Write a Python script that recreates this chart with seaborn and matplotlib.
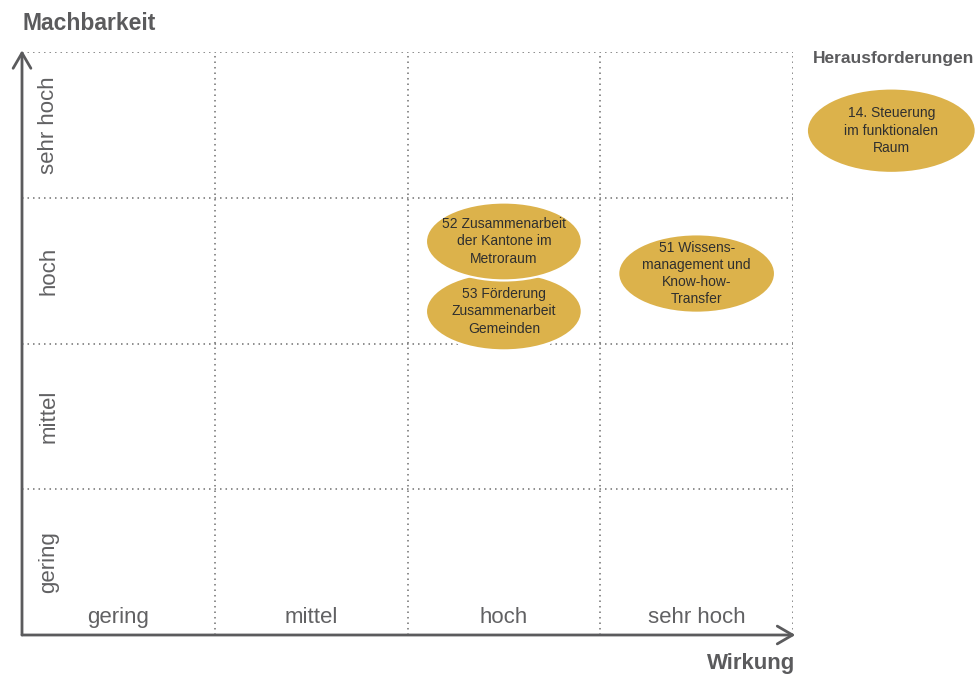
import matplotlib
matplotlib.use("Agg")
import matplotlib.pyplot as plt
import seaborn as sns
import pandas as pd
from matplotlib.path import Path
from matplotlib.transforms import Affine2D
from matplotlib.markers import MarkerStyle

# rating levels used on both axes
levels = ["gering", "mittel", "hoch", "sehr hoch"]

# measures (53 first so 52 overlaps it)
labels = [
    "53 Förderung\nZusammenarbeit\nGemeinden",
    "52 Zusammenarbeit\nder Kantone im\nMetroraum",
    "51 Wissens-\nmanagement und\nKnow-how-\nTransfer",
    "14. Steuerung\nim funktionalen\nRaum",
]
wirkung = [2.5, 2.5, 3.5, 4.51]
machbarkeit = [2.22, 2.70, 2.48, 3.46]

df = pd.DataFrame({"label": labels, "wirkung": wirkung, "machbarkeit": machbarkeit})

sns.set_theme(style="white")
plt.rcParams["font.family"] = ["Liberation Sans", "DejaVu Sans"]

gold = "#dcb24b"
grey = "#5b5b5d"

fig = plt.figure(figsize=(9.8, 6.78), dpi=100)
ax = fig.add_axes([22 / 980, 43 / 678, 771 / 980, 583 / 678])
ax.set_xlim(0, len(levels))
ax.set_ylim(0, len(levels))
ax.set_xticks([])
ax.set_yticks([])
for s in ax.spines.values():
    s.set_visible(False)

# dotted grid
for v in range(1, len(levels) + 1):
    ax.axvline(v, color="#707070", lw=1.1, ls=(0, (1, 2.6)), zorder=1)
    ax.axhline(v, color="#707070", lw=1.1, ls=(0, (1, 2.6)), zorder=1)

# axis arrows
arrow = dict(arrowstyle="->,head_length=0.55,head_width=0.32", color=grey,
             lw=2.0, mutation_scale=20, shrinkA=0, shrinkB=0)
ax.annotate("", xy=(0, 1.003), xytext=(0, 0), xycoords="axes fraction",
            arrowprops=arrow, annotation_clip=False)
ax.annotate("", xy=(1.003, 0), xytext=(0, 0), xycoords="axes fraction",
            arrowprops=arrow, annotation_clip=False)

# level labels inside the axes
for i, lv in enumerate(levels):
    ax.text(i + 0.5, 0.117, lv, ha="center", va="center", fontsize=16, color="#616163")
    ax.text(0.138, i + 0.5, lv, ha="center", va="center", rotation=90,
            fontsize=16, color="#616163")

# ellipse bubbles
ellipse = MarkerStyle(Path.unit_circle().transformed(Affine2D().scale(1, 0.5)))
sizes = [12600, 12600, 12760, 14800]
sns.scatterplot(data=df, x="wirkung", y="machbarkeit", marker=ellipse, s=sizes,
                color=gold, edgecolor="white", linewidth=1.6, clip_on=False,
                legend=False, zorder=3, ax=ax)
for _, r in df.iterrows():
    ax.text(r["wirkung"], r["machbarkeit"], r["label"], ha="center", va="center",
            fontsize=10, color="#2f2f2f", linespacing=1.3, zorder=4, clip_on=False)
ax.set_xlabel("")
ax.set_ylabel("")

fig.text(22 / 980, 1 - 23 / 678, "Machbarkeit", ha="left", va="center",
         fontsize=16.5, fontweight="bold", color=grey)
fig.text(795 / 980, 1 - 664 / 678, "Wirkung", ha="right", va="center",
         fontsize=16, fontweight="bold", color=grey)
fig.text(813 / 980, 1 - 59 / 678, "Herausforderungen", ha="left", va="center",
         fontsize=12.5, fontweight="bold", color=grey)

fig.savefig("out.png", dpi=100)
